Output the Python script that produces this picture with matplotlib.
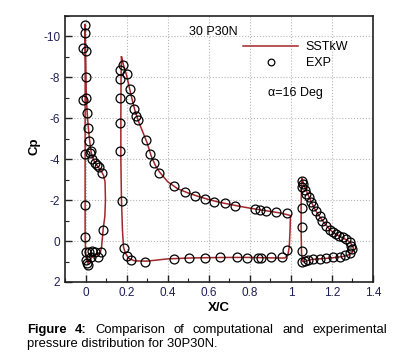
"""30P30N Cp distribution: SSTkW vs EXP."""
import matplotlib
matplotlib.use("Agg")
import matplotlib.pyplot as plt
from matplotlib.ticker import MultipleLocator, FormatStrFormatter

plt.rcParams["font.family"] = ["Liberation Sans", "DejaVu Sans"]
plt.rcParams["axes.unicode_minus"] = False

# --- EXP (circles) ---
slat_exp_x = [-0.005, -0.005, -0.013, 0.0, 0.0, -0.011, 0.003, 0.008, 0.013, 0.019, 0.029,
              -0.003, 0.023, 0.032, 0.045, 0.057, 0.065, 0.081, 0.086, -0.003, -0.003,
              0.0, 0.016, 0.031, 0.045, 0.073, 0.062, 0.029, 0.003, 0.005, 0.011]
slat_exp_cp = [-10.54, -10.18, -9.45, -9.28, -8.03, -6.89, -7.0, -6.28, -5.55, -4.89, -4.4,
               -4.26, -4.29, -4.0, -3.8, -3.7, -3.6, -3.32, -0.55, -1.77, -0.2,
               0.55, 0.52, 0.48, 0.55, 0.55, 0.8, 0.8, 0.91, 1.07, 1.17]

main_exp_x = [0.181, 0.17, 0.202, 0.17, 0.17, 0.218, 0.218, 0.235, 0.246, 0.256, 0.17,
              0.296, 0.17, 0.312, 0.332, 0.356, 0.429, 0.482, 0.531, 0.58, 0.626, 0.68,
              0.727, 0.825, 0.85, 0.879, 0.927, 0.982, 0.982, 0.958, 0.903, 0.854, 0.84,
              0.785, 0.736, 0.655, 0.581, 0.505, 0.432, 0.288, 0.223, 0.202, 0.189, 0.178]
main_exp_cp = [-8.59, -8.36, -8.15, -7.94, -7.0, -7.45, -6.93, -6.47, -6.11, -5.92, -5.76,
               -4.94, -4.4, -4.24, -3.84, -3.35, -2.67, -2.42, -2.18, -2.06, -1.89, -1.84,
               -1.72, -1.59, -1.53, -1.48, -1.43, -1.35, 0.44, 0.8, 0.8, 0.83, 0.82,
               0.81, 0.8, 0.8, 0.82, 0.85, 0.88, 1.04, 0.93, 0.72, 0.36, -1.94]

flap_exp_x = [1.056, 1.06, 1.053, 1.068, 1.076, 1.086, 1.1, 1.108, 1.121, 1.141, 1.154,
              1.173, 1.189, 1.205, 1.22, 1.234, 1.254, 1.27, 1.286, 1.295, 1.3, 1.286,
              1.262, 1.238, 1.205, 1.173, 1.141, 1.108, 1.084, 1.068, 1.056, 1.052,
              1.052, 1.052]
flap_exp_cp = [-2.94, -2.78, -2.62, -2.5, -2.29, -2.13, -1.89, -1.72, -1.48, -1.24, -0.99,
               -0.75, -0.55, -0.42, -0.33, -0.26, -0.18, -0.1, 0.03, 0.23, 0.39, 0.6,
               0.68, 0.76, 0.8, 0.83, 0.88, 0.88, 0.91, 0.96, 1.04, 0.47,
               -0.67, -1.64]

# --- SSTkW (lines) ---
slat_cfd_x = [0.072, 0.078, 0.086, 0.094, 0.097, 0.095, 0.088, 0.075, 0.055, 0.04, 0.028,
              0.02, 0.013, 0.008, 0.004, 0.002, 0.0, -0.002, -0.002, -0.002, -0.002,
              -0.002, -0.002, 0.0, 0.005, 0.012, 0.025, 0.045, 0.06, 0.072]
slat_cfd_cp = [0.55, 0.3, -0.6, -1.2, -2.0, -2.9, -3.2, -3.45, -3.7, -3.95, -4.3,
               -4.9, -5.6, -6.3, -7.0, -8.0, -9.3, -10.6, -9.0, -7.0, -4.3,
               -1.8, -0.2, 0.5, 0.9, 1.1, 0.85, 0.7, 0.65, 0.55]

main_cfd_x = [0.175, 0.185, 0.2, 0.22, 0.24, 0.26, 0.28, 0.3, 0.32, 0.34, 0.36, 0.4, 0.45,
              0.5, 0.55, 0.6, 0.65, 0.7, 0.75, 0.8, 0.85, 0.9, 0.95, 0.998, 0.996, 0.992,
              0.985, 0.97, 0.9, 0.8, 0.7, 0.6, 0.5, 0.4, 0.3, 0.24, 0.21, 0.195, 0.185,
              0.18, 0.175, 0.172, 0.172, 0.173, 0.175]
main_cfd_cp = [-9.0, -8.6, -8.1, -7.2, -6.4, -5.8, -5.3, -4.8, -4.15, -3.7, -3.38, -2.9,
               -2.55, -2.35, -2.18, -2.03, -1.9, -1.8, -1.7, -1.61, -1.53, -1.45, -1.37,
               -1.25, -0.5, 0.3, 0.7, 0.83, 0.82, 0.8, 0.8, 0.81, 0.83, 0.87, 0.98, 0.97,
               0.85, 0.6, 0.3, -0.5, -2.0, -4.0, -6.0, -8.0, -9.0]

flap_cfd_x = [1.055, 1.065, 1.08, 1.1, 1.12, 1.14, 1.16, 1.18, 1.2, 1.22, 1.24, 1.26, 1.28,
              1.295, 1.305, 1.3, 1.28, 1.25, 1.2, 1.15, 1.1, 1.08, 1.065, 1.058, 1.052,
              1.05, 1.05, 1.052, 1.055]
flap_cfd_cp = [-3.05, -2.7, -2.35, -1.9, -1.5, -1.2, -0.92, -0.68, -0.47, -0.33, -0.22,
               -0.12, 0.0, 0.15, 0.35, 0.55, 0.68, 0.76, 0.82, 0.86, 0.9, 0.95, 1.02, 1.0,
               0.6, -0.5, -1.8, -2.6, -3.05]

W, H = 411, 358
fig = plt.figure(figsize=(W / 100, H / 100), dpi=100)
ax = fig.add_axes([65 / W, 1 - 282 / H, 308 / W, 266 / H])

RED = "#a3262b"
tick_col = "#1e1e5a"
for i, (lx, ly) in enumerate([(slat_cfd_x, slat_cfd_cp), (main_cfd_x, main_cfd_cp),
                              (flap_cfd_x, flap_cfd_cp)]):
    ax.plot(lx, ly, color=RED, lw=1.1, label="SSTkW" if i == 0 else None, zorder=2)
for i, (px, py) in enumerate([(slat_exp_x, slat_exp_cp), (main_exp_x, main_exp_cp),
                              (flap_exp_x, flap_exp_cp)]):
    ax.plot(px, py, "o", mfc="none", mec="black", ms=6.4, mew=0.9,
            label="EXP" if i == 0 else None, zorder=3)

ax.set_xlim(-0.1, 1.4)
ax.set_ylim(2, -11)
ax.xaxis.set_major_locator(MultipleLocator(0.2))
ax.xaxis.set_minor_locator(MultipleLocator(0.1))
ax.yaxis.set_major_locator(MultipleLocator(2))
ax.yaxis.set_minor_locator(MultipleLocator(1))
ax.xaxis.set_major_formatter(FormatStrFormatter("%g"))
ax.tick_params(which="both", direction="in", colors="#222222", labelcolor=tick_col,
               labelsize=8.5, top=False, right=False)
ax.tick_params(which="major", length=5, width=1)
ax.tick_params(which="minor", length=3, width=0.8)
ax.grid(True, which="major", ls=":", color="#b5b5b5", lw=0.8)
for s in ax.spines.values():
    s.set_linewidth(1.2)
    s.set_color("#222222")

ax.set_xlabel("X/C", fontsize=9.5, fontweight="bold", labelpad=2)
ax.set_ylabel("Cp", fontsize=9.5, fontweight="bold")
ax.yaxis.set_label_coords(-0.081, 0.51)

ax.legend(loc="upper left", bbox_to_anchor=(0.578, 0.905), frameon=False, fontsize=9,
          handlelength=4.4, handletextpad=0.6, labelspacing=0.3, borderpad=0,
          borderaxespad=0, markerscale=0.75)
ax.text(0.505, -10.2, "30 P30N", fontsize=9, va="center", ha="left")
ax.text(0.888, -7.25, "α=16 Deg", fontsize=9, va="center", ha="left")

# caption: first line justified between x=27 and x=387 px
CAP = 9.4
line1 = [("Figure", "bold"), ("4:", "bold"), ("Comparison", "normal"), ("of", "normal"),
         ("computational", "normal"), ("and", "normal"), ("experimental", "normal")]
renderer = fig.canvas.get_renderer()
texts = [fig.text(0, 1 - 330 / H, w, fontsize=CAP, fontweight=fw, va="center", ha="left")
         for w, fw in line1]
widths = [t.get_window_extent(renderer).width for t in texts]
gap = (387 - 27 - sum(widths)) / (len(texts) - 1)
xp = 27
for t, wd in zip(texts, widths):
    t.set_x(xp / W)
    xp += wd + gap
fig.text(27 / W, 1 - 344 / H, "pressure distribution for 30P30N.", fontsize=CAP,
         va="center", ha="left")

fig.savefig("out.png", dpi=100)
